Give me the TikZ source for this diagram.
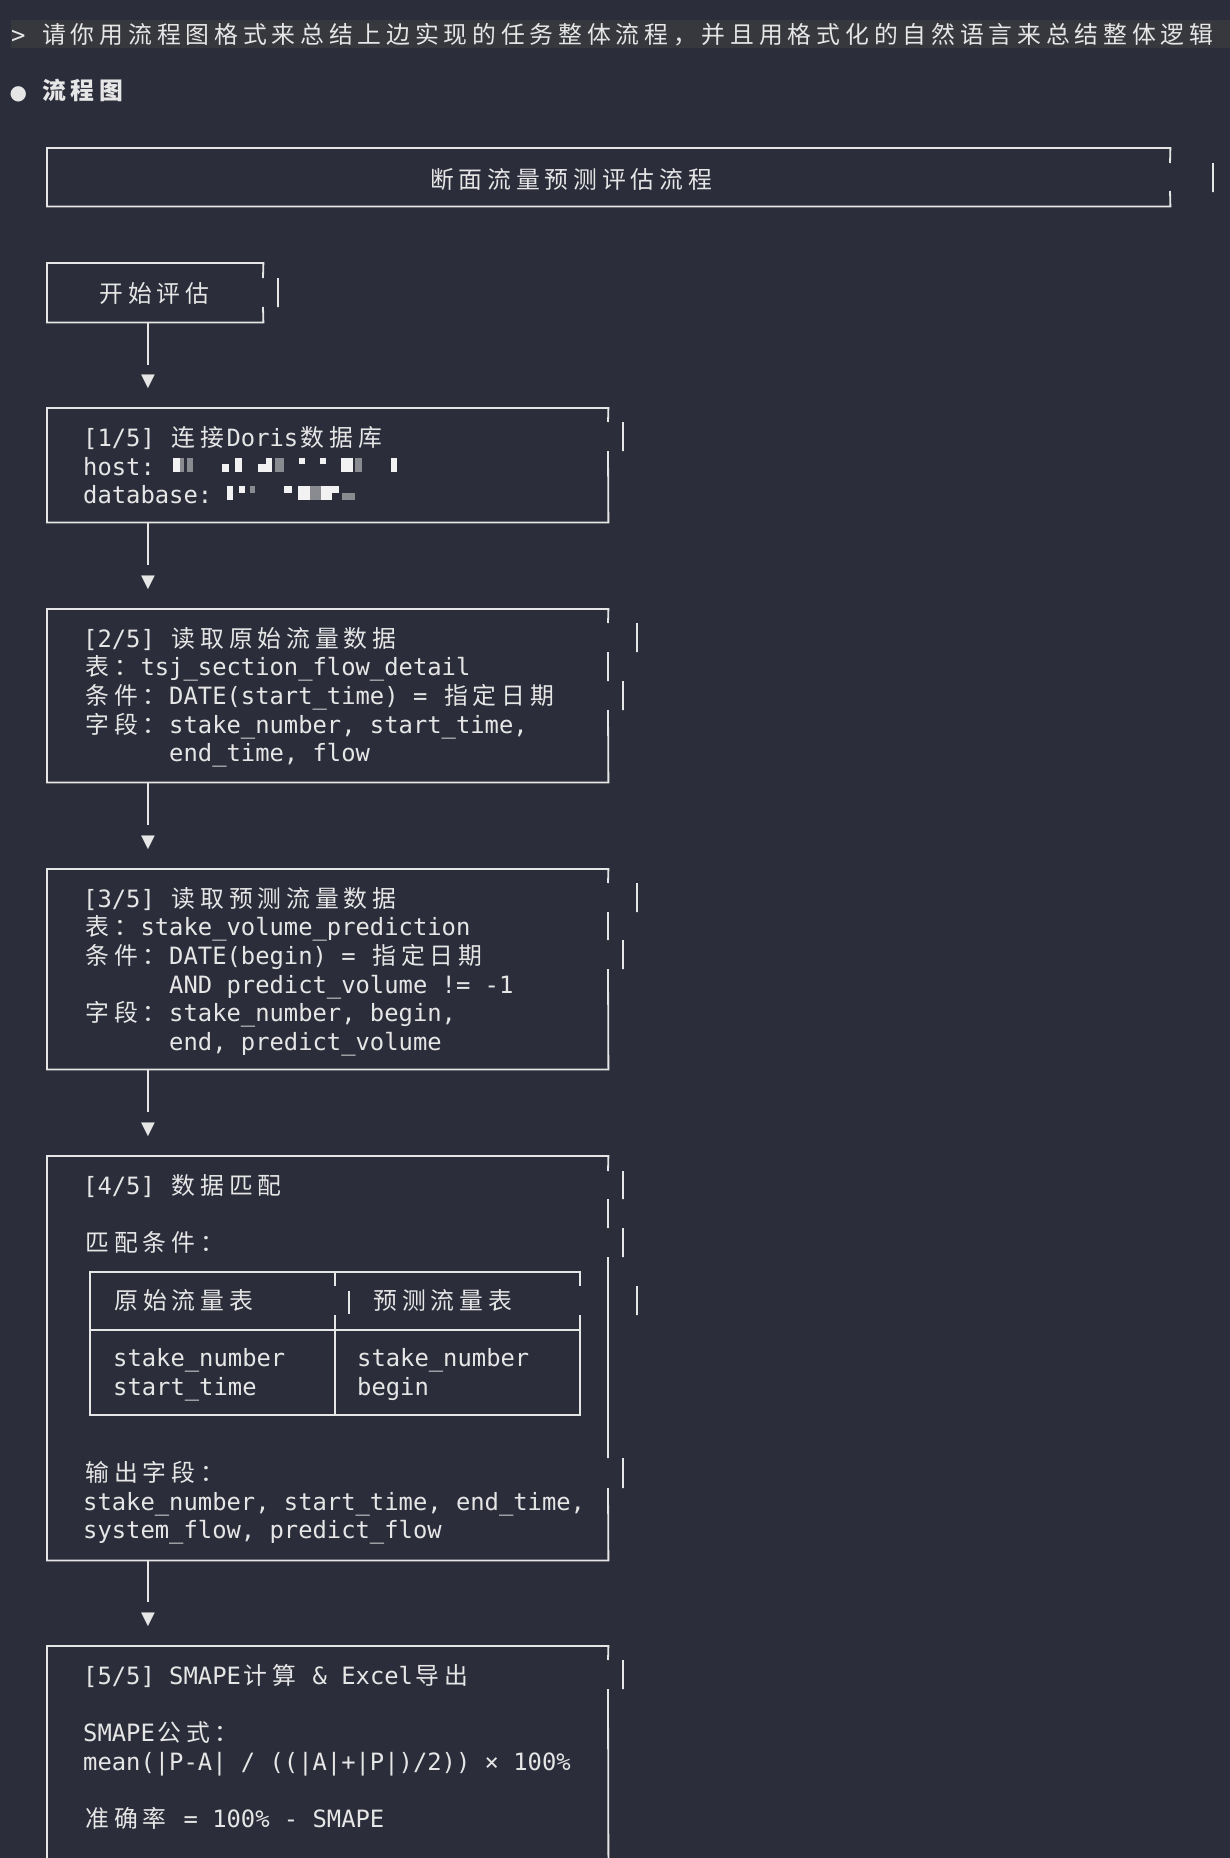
\documentclass[tikz,border=0pt]{standalone}
\usepackage{fontspec}
\setmonofont{DejaVu Sans Mono}
\newfontfamily\cjkfont{Noto Sans CJK SC}
\newfontfamily\symfont{DejaVu Sans}
\usetikzlibrary{positioning}

\definecolor{termbg}{HTML}{2B2D3A}
\definecolor{promptbg}{HTML}{37383D}
\definecolor{termfg}{HTML}{E6E6E6}
\definecolor{blurA}{HTML}{F2F2F2}
\definecolor{blurB}{HTML}{8A8B90}

\newlength\cw
\setlength\cw{14.34pt}
\newcommand\termfont{\ttfamily\fontsize{23.82}{28.7}\selectfont}
% one CJK glyph = two terminal cells
\ExplSyntaxOn
\NewDocumentCommand\cj{m}{\tl_map_inline:nn{#1}{\makebox[2\cw]{\cjkfont ##1}}}
\ExplSyntaxOff

\tikzset{
  boxline/.style={draw=termfg, line width=1.8pt},
  termtext/.style={font=\termfont, text=termfg, inner sep=0pt, anchor=base west},
  boxarea/.style={inner sep=0pt, anchor=north west},
  arrowtip/.style={font=\symfont\fontsize{18}{18}\selectfont, text=termfg, inner sep=0pt},
  stem/.style={boxline, shorten >=10pt},
}

\begin{document}
\begin{tikzpicture}[x=1pt, y=-1pt]

\useasboundingbox (0,0) rectangle (1230,1858);
\fill[termbg] (0,0) rectangle (1230,1858);
\fill[promptbg] (11,20) rectangle (1230,48);

\node[termtext] (prompt) at (11,43) {> \cj{请你用流程图格式来总结上边实现的任务整体流程，并且用格式化的自然语言来总结整体逻辑}};
\node[termtext] (heading) at (11,99) {\makebox[\cw]{\symfont\fontsize{20}{20}\selectfont ●} \textbf{\cj{流程图}}};

% title
\node[boxarea, minimum width=1123pt, minimum height=58pt] (banner) at (47,148) {};
\node[termtext, anchor=base] (bannertext) at (571,188) {\cj{断面流量预测评估流程}};
\draw[boxline] (1170,163) -- (banner.north east) -- (banner.north west) -- (banner.south west) -- (banner.south east) -- (1170,191)
  (1213,163) -- (1213,192);

% start
\node[boxarea, minimum width=216pt, minimum height=59pt] (startbox) at (47,263) {};
\node[termtext] (starttext) at (97,302) {\cj{开始评估}};
\draw[boxline] (263,278) -- (startbox.north east) -- (startbox.north west) -- (startbox.south west) -- (startbox.south east) -- (263,307)
  (278,278) -- (278,307);

\node[arrowtip] (tip0) at (148,382) {▼};
\draw[stem] (startbox.south -| tip0) -- (tip0.north);

% [1/5]
\node[boxarea, minimum width=561pt, minimum height=114pt] (connect) at (47,408) {};
\node[termtext] (c1) at (83,446) {[1/5] \cj{连接}Doris\cj{数据库}};
\node[termtext] (c2) at (83,475) {host:};
\node[termtext] (c3) at (83,503) {database:};
\foreach \xa/\xb/\ya/\yb/\sh in {173/180/458/472/blurA, 180/184/458/472/blurB, 187/193/458/472/blurB,
    222/229/464/472/blurA, 235/242/458/472/blurA, 258/266/464/472/blurA, 266/272/458/472/blurA,
    275/284/458/472/blurB, 299/305/458/464/blurA, 320/326/458/464/blurA, 341/353/458/472/blurA,
    355/362/458/472/blurB, 391/397/458/472/blurA,
    227/233/486/500/blurA, 239/245/486/493/blurA, 250/255/486/493/blurB, 284/292/486/493/blurA,
    298/310/486/500/blurA, 310/321/486/500/blurB, 321/332/486/500/blurA, 332/339/486/493/blurA,
    342/355/493/500/blurB}
  \fill[\sh] (\xa,\ya) rectangle (\xb,\yb);
\draw[boxline] (608,422) -- (connect.north east) -- (connect.north west) -- (connect.south west) -- (connect.south east) -- (608,451)
  (623,422) -- (623,451);

\node[arrowtip] (tip1) at (148,582.5) {▼};
\draw[stem] (connect.south -| tip1) -- (tip1.north);

% [2/5]
\node[boxarea, minimum width=561pt, minimum height=173pt] (rawread) at (47,609) {};
\node[termtext] (r1) at (83,647) {[2/5] \cj{读取原始流量数据}};
\node[termtext] (r2) at (83,675.7) {\cj{表：}tsj\_section\_flow\_detail};
\node[termtext] (r3) at (83,704.4) {\cj{条件：}DATE(start\_time) = \cj{指定日期}};
\node[termtext] (r4) at (83,733.1) {\cj{字段：}stake\_number, start\_time,};
\node[termtext] (r5) at (83,761.8) {\hspace*{6\cw}end\_time, flow};
\draw[boxline] (608,623) -- (rawread.north east) -- (rawread.north west) -- (rawread.south west) -- (rawread.south east) -- (608,710)
  (637,623) -- (637,652) (608,652) -- (608,681) (623,681) -- (623,710);

\node[arrowtip] (tip2) at (148,842.5) {▼};
\draw[stem] (rawread.south -| tip2) -- (tip2.north);

% [3/5]
\node[boxarea, minimum width=561pt, minimum height=200pt] (predread) at (47,869) {};
\node[termtext] (p1) at (83,907) {[3/5] \cj{读取预测流量数据}};
\node[termtext] (p2) at (83,935.7) {\cj{表：}stake\_volume\_prediction};
\node[termtext] (p3) at (83,964.4) {\cj{条件：}DATE(begin) = \cj{指定日期}};
\node[termtext] (p4) at (83,993.1) {\hspace*{6\cw}AND predict\_volume != -1};
\node[termtext] (p5) at (83,1021.8) {\cj{字段：}stake\_number, begin,};
\node[termtext] (p6) at (83,1050.5) {\hspace*{6\cw}end, predict\_volume};
\draw[boxline] (608,883) -- (predread.north east) -- (predread.north west) -- (predread.south west) -- (predread.south east) -- (608,969)
  (637,883) -- (637,912) (608,912) -- (608,940) (623,940) -- (623,969);

\node[arrowtip] (tip3) at (148,1129.5) {▼};
\draw[stem] (predread.south -| tip3) -- (tip3.north);

% [4/5]
\node[boxarea, minimum width=561pt, minimum height=404pt] (match) at (47,1156) {};
\node[termtext] (m1) at (83,1194) {[4/5] \cj{数据匹配}};
\node[termtext] (m2) at (83,1251.5) {\cj{匹配条件：}};
\draw[boxline] (580,1286) -- (580,1272) -- (90,1272) -- (90,1415) -- (580,1415) -- (580,1315)
  (90,1330) -- (580,1330)
  (335,1272) -- (335,1286) (335,1315) -- (335,1415)
  (349,1291) -- (349,1314);
\node[termtext] (h1) at (112,1309) {\cj{原始流量表}};
\node[termtext] (h2) at (371,1309) {\cj{预测流量表}};
\node[termtext] (k1) at (113,1366.5) {stake\_number};
\node[termtext] (k2) at (113,1395) {start\_time};
\node[termtext] (k3) at (357,1366.5) {stake\_number};
\node[termtext] (k4) at (357,1395) {begin};
\node[termtext] (m3) at (83,1481) {\cj{输出字段：}};
\node[termtext] (m4) at (83,1510) {stake\_number, start\_time, end\_time,};
\node[termtext] (m5) at (83,1538.7) {system\_flow, predict\_flow};
\draw[boxline] (608,1171) -- (match.north east) -- (match.north west) -- (match.south west) -- (match.south east) -- (608,1488)
  (623,1171) -- (623,1199) (608,1199) -- (608,1228) (623,1228) -- (623,1257) (608,1257) -- (608,1458)
  (637,1286) -- (637,1315) (623,1458) -- (623,1488);

\node[arrowtip] (tip4) at (148,1619.5) {▼};
\draw[stem] (match.south -| tip4) -- (tip4.north);

% [5/5]
\node[boxarea, minimum width=561pt, minimum height=212pt] (smape) at (47,1646) {};
\node[termtext] (s1) at (83,1684) {[5/5] SMAPE\cj{计算} \& Excel\cj{导出}};
\node[termtext] (s2) at (83,1741.5) {SMAPE\cj{公式：}};
\node[termtext] (s3) at (83,1770.2) {mean(|P-A| / ((|A|+|P|)/2)) × 100\%};
\node[termtext] (s4) at (83,1827.6) {\cj{准确率} = 100\% - SMAPE};
\draw[boxline] (608,1660) -- (smape.north east) -- (smape.north west) -- (smape.south west)
  (623,1660) -- (623,1689) (608,1689) -- (smape.south east);

\end{tikzpicture}
\end{document}
